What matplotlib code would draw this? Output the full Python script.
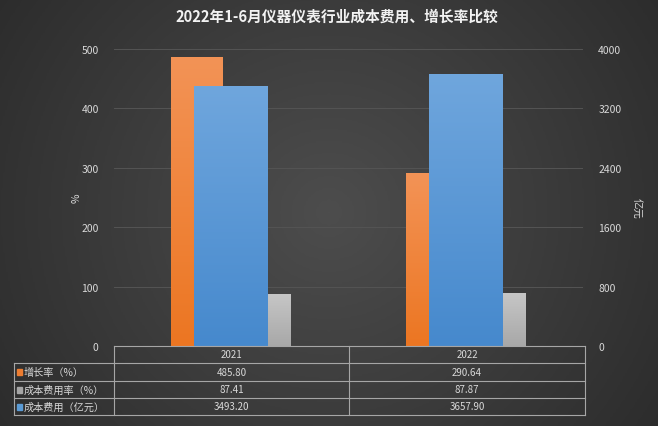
import numpy as np
import matplotlib.pyplot as plt
from matplotlib.colors import LinearSegmentedColormap

plt.rcParams['font.family'] = ['Noto Sans CJK SC', 'DejaVu Sans']

# data
years = ['2021', '2022']
growth = [485.80, 290.64]          # 增长率（%）
cost_rate = [87.41, 87.87]         # 成本费用率（%）
cost = [3493.20, 3657.90]          # 成本费用（亿元）
row_labels = ['增长率（%）', '成本费用率（%）', '成本费用（亿元）']
title = '2022年1-6月仪器仪表行业成本费用、增长率比较'

txt_col = '#d9d9d9'
W, H = 658, 427

fig = plt.figure(figsize=(W / 100, H / 100), dpi=100)

# background gradient (lighter in middle, darker at edges)
bg = fig.add_axes([0, 0, 1, 1], zorder=-10)
gx, gy = np.meshgrid(np.linspace(-1, 1, 400), np.linspace(-1, 1, 300))
r = np.sqrt((gx * 0.9) ** 2 + (gy * 0.6) ** 2)
bgcm = LinearSegmentedColormap.from_list('bg', ['#4d4d4d', '#2c2c2c'])
bg.imshow(r, cmap=bgcm, aspect='auto', extent=[0, 1, 0, 1], vmin=0, vmax=1.1)
bg.set_axis_off()

ax = fig.add_axes([114 / W, 1 - 347 / H, 469 / W, 297 / H])
ax.patch.set_alpha(0)
ax2 = ax.twinx()
ax2.patch.set_alpha(0)

x = np.arange(len(years))


def grad_bar(a, xc, w, h, top, bottom, z):
    cm = LinearSegmentedColormap.from_list('g', [bottom, top])
    a.imshow(np.linspace(0, 1, 100).reshape(-1, 1), cmap=cm, origin='lower',
             aspect='auto', extent=[xc - w / 2, xc + w / 2, 0, h], zorder=z)


for i in range(len(years)):
    grad_bar(ax, x[i] - 0.145, 0.22, growth[i], '#f39356', '#ec7622', 3)
    grad_bar(ax, x[i] + 0.145, 0.22, cost_rate[i], '#c6c6c6', '#a8a8a8', 3)
    grad_bar(ax2, x[i], 0.315, cost[i], '#6fa6dd', '#4689cd', 3)

ax.set_xlim(-0.5, 1.5)
ax.set_ylim(0, 500)
ax2.set_ylim(0, 4000)
ax.set_yticks(np.arange(0, 501, 100))
ax2.set_yticks(np.arange(0, 4001, 800))
for yv in range(100, 501, 100):
    ax.axhline(yv, color='#545454', lw=0.7, zorder=1)

for a in (ax, ax2):
    for s in a.spines.values():
        s.set_visible(False)
    a.tick_params(length=0, colors=txt_col, labelsize=7.5)
ax.tick_params(axis='y', pad=11)
ax2.tick_params(axis='y', pad=11)
ax.set_xticks([])

fig.text(77 / W, 1 - 198 / H, '%', color=txt_col, fontsize=7.5, rotation=90,
         ha='center', va='center')
fig.text(636 / W, 1 - 208 / H, '亿元', color=txt_col, fontsize=7.5, rotation=270,
         ha='center', va='center')

fig.text(0.5 + 8 / W, 1 - 17 / H, title, color='#f2f2f2', fontsize=10.6,
         fontweight='bold', ha='center', va='center')

# data table below the plot
lc = '#a6a6a6'
x_lab, x0, xm, x1 = 14, 114, 349, 585
ys = [347, 364, 382, 399, 416]


def fx(px):
    return px / W


def fy(py):
    return 1 - py / H


def hline(xa, xb, yy):
    fig.add_artist(plt.Line2D([fx(xa), fx(xb)], [fy(yy), fy(yy)], color=lc, lw=0.8))


def vline(xx, ya, yb):
    fig.add_artist(plt.Line2D([fx(xx), fx(xx)], [fy(ya), fy(yb)], color=lc, lw=0.8))


hline(x0, x1, ys[0])
for yy in ys[1:]:
    hline(x_lab, x1, yy)
vline(x_lab, ys[1], ys[4])
vline(x0, ys[0], ys[4])
vline(xm, ys[0], ys[4])
vline(x1, ys[0], ys[4])

centers = [(x0 + xm) / 2, (xm + x1) / 2]
for j, yr in enumerate(years):
    fig.text(fx(centers[j]), fy((ys[0] + ys[1]) / 2), yr, color=txt_col,
             fontsize=7, ha='center', va='center')

series = [growth, cost_rate, cost]
marks = ['#ed7d31', '#a5a5a5', '#5b9bd5']
for i, lab in enumerate(row_labels):
    yc = (ys[i + 1] + ys[i + 2]) / 2
    fig.patches.append(plt.Rectangle((fx(17), fy(yc + 3)), 5 / W, 6 / H,
                                     color=marks[i], transform=fig.transFigure))
    fig.text(fx(24), fy(yc), lab, color=txt_col, fontsize=7.3, ha='left', va='center')
    for j in range(len(years)):
        fig.text(fx(centers[j]), fy(yc), '%.2f' % series[i][j], color=txt_col,
                 fontsize=7, ha='center', va='center')

fig.savefig('out.png', dpi=100)
